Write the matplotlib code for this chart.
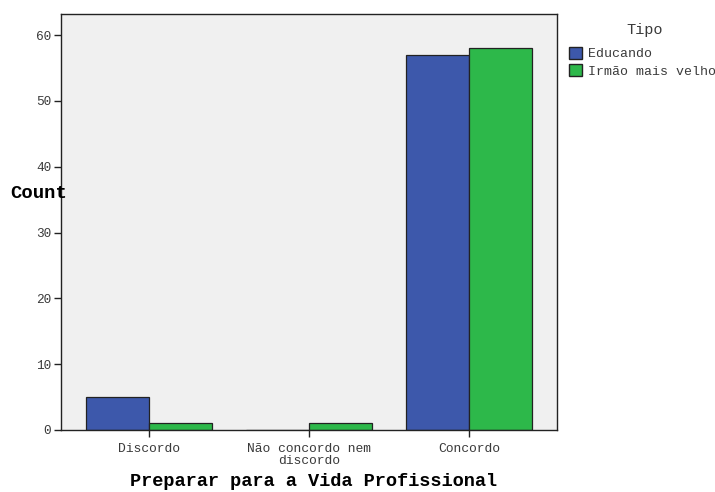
import matplotlib
matplotlib.use("Agg")
import matplotlib.pyplot as plt
import numpy as np
from matplotlib.patches import Patch

categories = ["Discordo", "Não concordo nem\ndiscordo", "Concordo"]
educando = [5, 0, 57]
irmao = [1, 1, 58]
series_names = ["Educando", "Irmão mais velho"]
legend_title = "Tipo"
yticks = [0, 10, 20, 30, 40, 50, 60]

blue = "#3d58ab"
green = "#2db84a"
font = "Liberation Mono"
txt = "#3a3a3a"

fig = plt.figure(figsize=(7.15, 4.92), dpi=100)
ax = fig.add_axes([61/715, 62/492, (557-61)/715, (430-14)/492])
ax.set_facecolor("#f0f0f0")

x = np.arange(len(categories))
w = 0.394
ax.bar(x - w/2, educando, width=w, color=blue, edgecolor="#222222", linewidth=0.9)
ax.bar(x + w/2, irmao, width=w, color=green, edgecolor="#222222", linewidth=0.9)

ax.set_xlim(-0.55, 2.55)
ax.set_ylim(0, 63.2)
ax.set_xticks(x)
ax.set_xticklabels(categories, fontfamily=font, fontsize=9.4, color=txt, linespacing=1.0)
ax.set_yticks(yticks)
ax.set_yticklabels([str(v) for v in yticks], fontfamily=font, fontsize=9.2, color=txt)
ax.tick_params(axis="both", direction="out", length=5, width=1, color="#222222", pad=2)
ax.tick_params(axis="x", pad=4)
for s in ax.spines.values():
    s.set_color("#222222")
    s.set_linewidth(1)

ax.set_xlabel("Preparar para a Vida Profissional", fontfamily=font, fontsize=13.4,
              fontweight="bold")
ax.xaxis.set_label_coords((314 - 61) / 496, -(482 - 430) / 416)
ax.xaxis.label.set_verticalalignment("center")
fig.text(10/715, 1 - 193/492, "Count", fontfamily=font, fontsize=13.6, fontweight="bold",
         ha="left", va="center")

fig.text(645/715, 1 - 30/492, legend_title, fontfamily=font, fontsize=11, color=txt,
         ha="center", va="center")
handles = [Patch(facecolor=blue, edgecolor="#222222"), Patch(facecolor=green, edgecolor="#222222")]
leg = fig.legend(handles, series_names, loc="upper left", bbox_to_anchor=(569/715, 1 - 47/492),
                 frameon=False, prop={"family": font, "size": 9.5},
                 handlelength=1.0, handleheight=1.0, handletextpad=0.45, labelspacing=0.3,
                 borderaxespad=0, borderpad=0.0)
for t in leg.get_texts():
    t.set_color(txt)

fig.savefig("out.png", dpi=100)
